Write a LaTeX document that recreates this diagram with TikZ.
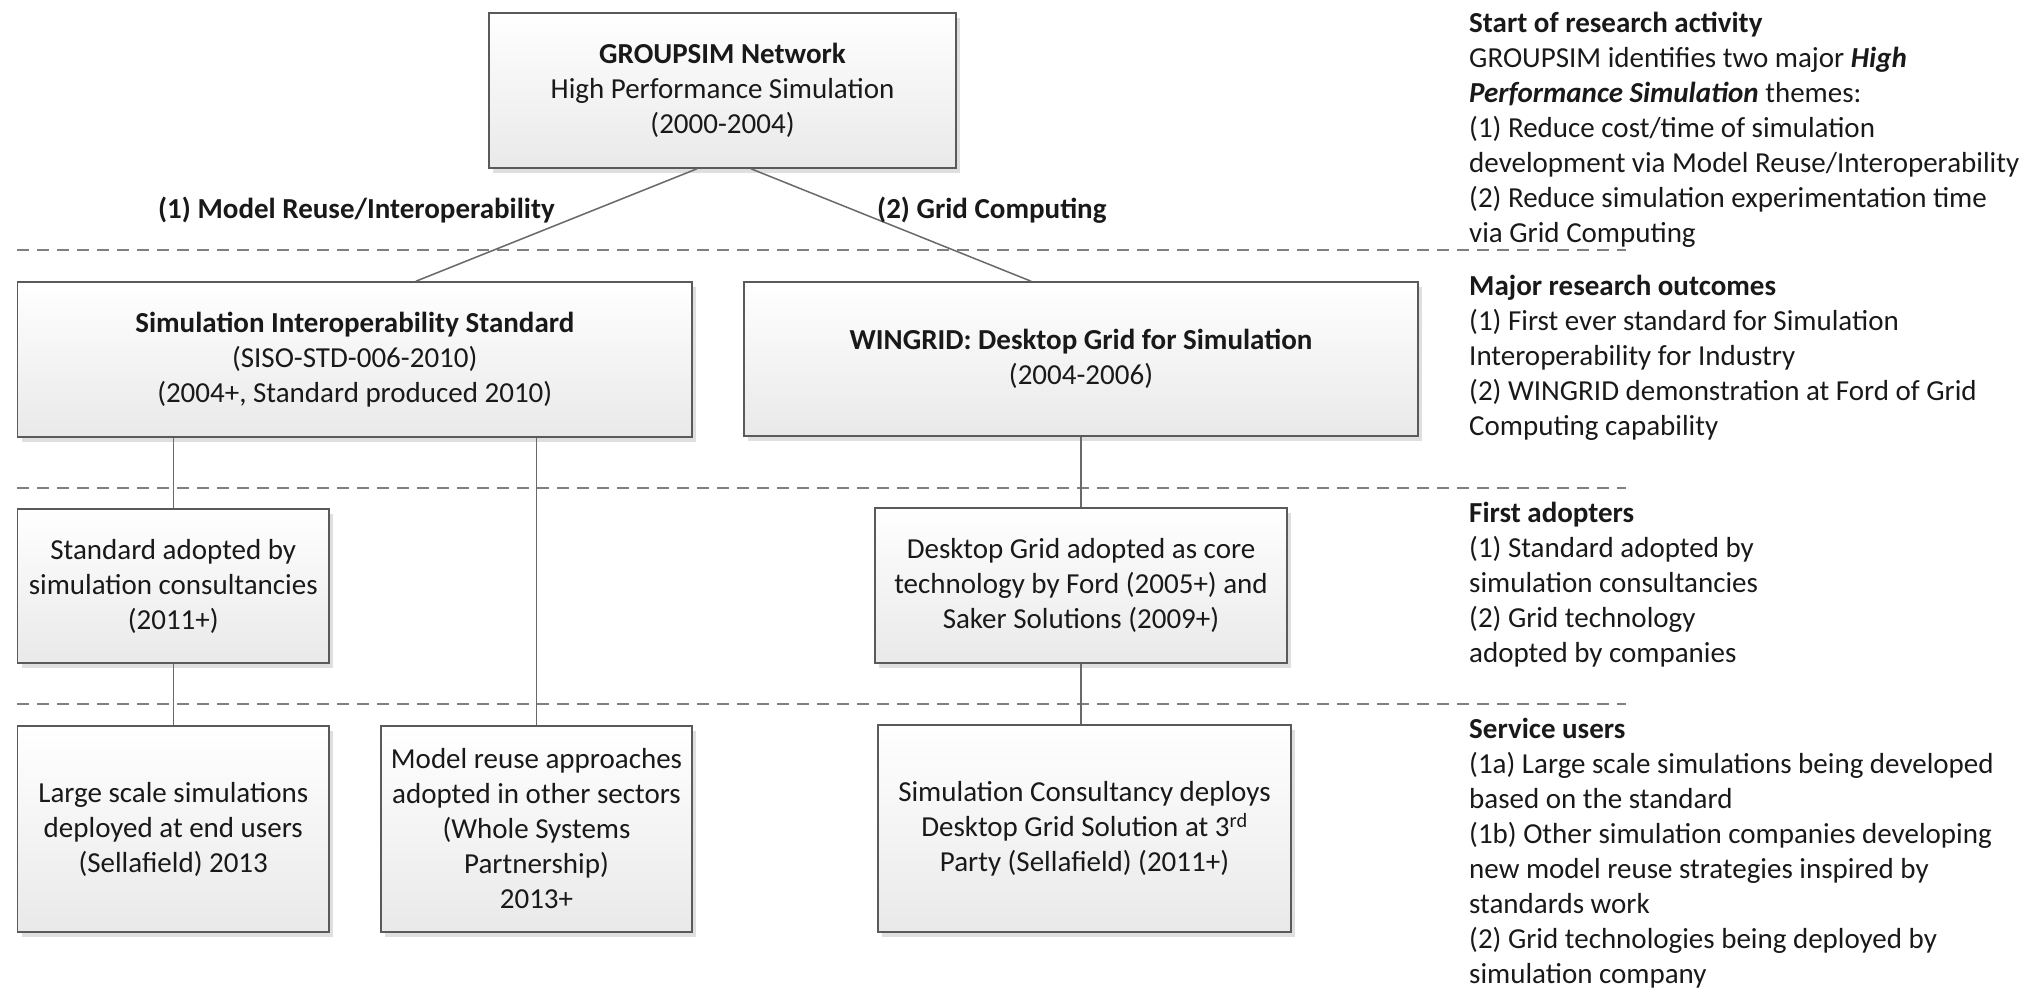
\documentclass[tikz,border=0pt]{standalone}
\usepackage{fontspec}
\setmainfont{Carlito}
\usetikzlibrary{shadows,calc}
\definecolor{boxline}{RGB}{90,90,90}
\definecolor{connc}{RGB}{105,105,105}
\definecolor{dashc}{RGB}{128,128,128}
\definecolor{txt}{RGB}{25,25,25}
\definecolor{boxbot}{RGB}{233,233,233}
\begin{document}
\begin{tikzpicture}[x=1pt,y=-1pt,
  every node/.style={font=\fontsize{29}{35}\selectfont, text=txt},
  box/.style={draw=boxline, line width=1.6pt, top color=white, bottom color=boxbot,
    drop shadow={shadow xshift=4pt, shadow yshift=-5pt, fill=black!14, opacity=0.9},
    align=center, inner sep=0pt},
  conn/.style={draw=connc, line width=1.5pt},
  sepline/.style={draw=dashc, line width=2pt, dash pattern=on 12pt off 8pt},
  note/.style={anchor=base west, align=left, inner sep=0pt},
  lbl/.style={anchor=west, inner sep=0pt, font=\fontsize{29}{35}\selectfont\bfseries}
]
\useasboundingbox (0,0) rectangle (2032,1000);

% separators
\draw[sepline] (17,250) -- (1626,250);
\draw[sepline] (17,488) -- (1626,488);
\draw[sepline] (17,704) -- (1626,704);

% boxes
\node[box, minimum width=467pt, minimum height=155pt] (top) at (722.5,90.5)
  {\textbf{GROUPSIM Network}\\High Performance Simulation\\(2000-2004)};
\node[box, minimum width=674.5pt, minimum height=155pt] (sim) at (354.75,359.5)
  {\textbf{Simulation Interoperability Standard}\\(SISO-STD-006-2010)\\(2004+, Standard produced 2010)};
\node[box, minimum width=674pt, minimum height=154pt] (wingrid) at (1081,359)
  {\textbf{WINGRID: Desktop Grid for Simulation}\\(2004-2006)};
\node[box, minimum width=311.5pt, minimum height=154pt] (std) at (173.25,586)
  {Standard adopted by\\simulation consultancies\\(2011+)};
\node[box, minimum width=412pt, minimum height=155pt] (dg) at (1081,585.5)
  {Desktop Grid adopted as core\\technology by Ford (2005+) and\\Saker Solutions (2009+)};
\node[box, minimum width=311.5pt, minimum height=206pt] (large) at (173.25,829)
  {Large scale simulations\\deployed at end users\\(Sellafield) 2013};
\node[box, minimum width=311pt, minimum height=206pt] (reuse) at (536.5,829)
  {Model reuse approaches\\adopted in other sectors\\(Whole Systems\\Partnership)\\2013+};
\node[box, minimum width=413pt, minimum height=207pt] (cons) at (1084.5,828.5)
  {Simulation Consultancy deploys\\Desktop Grid Solution at 3\textsuperscript{rd}\\Party (Sellafield) (2011+)};

% connectors
\draw[conn] ([xshift=-25.5pt]top.south) -- ([xshift=61.25pt]sim.north);
\draw[conn] ([xshift=28.5pt]top.south) -- ([xshift=-50pt]wingrid.north);
\draw[conn] (std.north |- sim.south) -- (std.north);
\draw[conn] (reuse.north |- sim.south) -- (reuse.north);
\draw[conn] (std.south) -- (large.north);
\draw[conn] (wingrid.south) -- (dg.north);
\draw[conn] (dg.south) -- (dg.south |- cons.north);

% connector labels
\node[lbl] (l1) at (158,210) {(1) Model Reuse/Interoperability};
\node[lbl] (l2) at (877,210) {(2) Grid Computing};

% right-hand notes (anchored at the baseline of their last line)
\node[note] (n1) at (1469,243) {\textbf{Start of research activity}\\
GROUPSIM identifies two major \textbf{\textit{High}}\\
\textbf{\textit{Performance Simulation}} themes:\\
(1) Reduce cost/time of simulation\\
development via Model Reuse/Interoperability\\
(2) Reduce simulation experimentation time\\
via Grid Computing};
\node[note] (n2) at (1469,435) {\textbf{Major research outcomes}\\
(1) First ever standard for Simulation\\
Interoperability for Industry\\
(2) WINGRID demonstration at Ford of Grid\\
Computing capability};
\node[note] (n3) at (1469,662) {\textbf{First adopters}\\
(1) Standard adopted by\\
simulation consultancies\\
(2) Grid technology\\
adopted by companies};
\node[note] (n4) at (1469,983) {\textbf{Service users}\\
(1a) Large scale simulations being developed\\
based on the standard\\
(1b) Other simulation companies developing\\
new model reuse strategies inspired by\\
standards work\\
(2) Grid technologies being deployed by\\
simulation company};
\end{tikzpicture}
\end{document}
